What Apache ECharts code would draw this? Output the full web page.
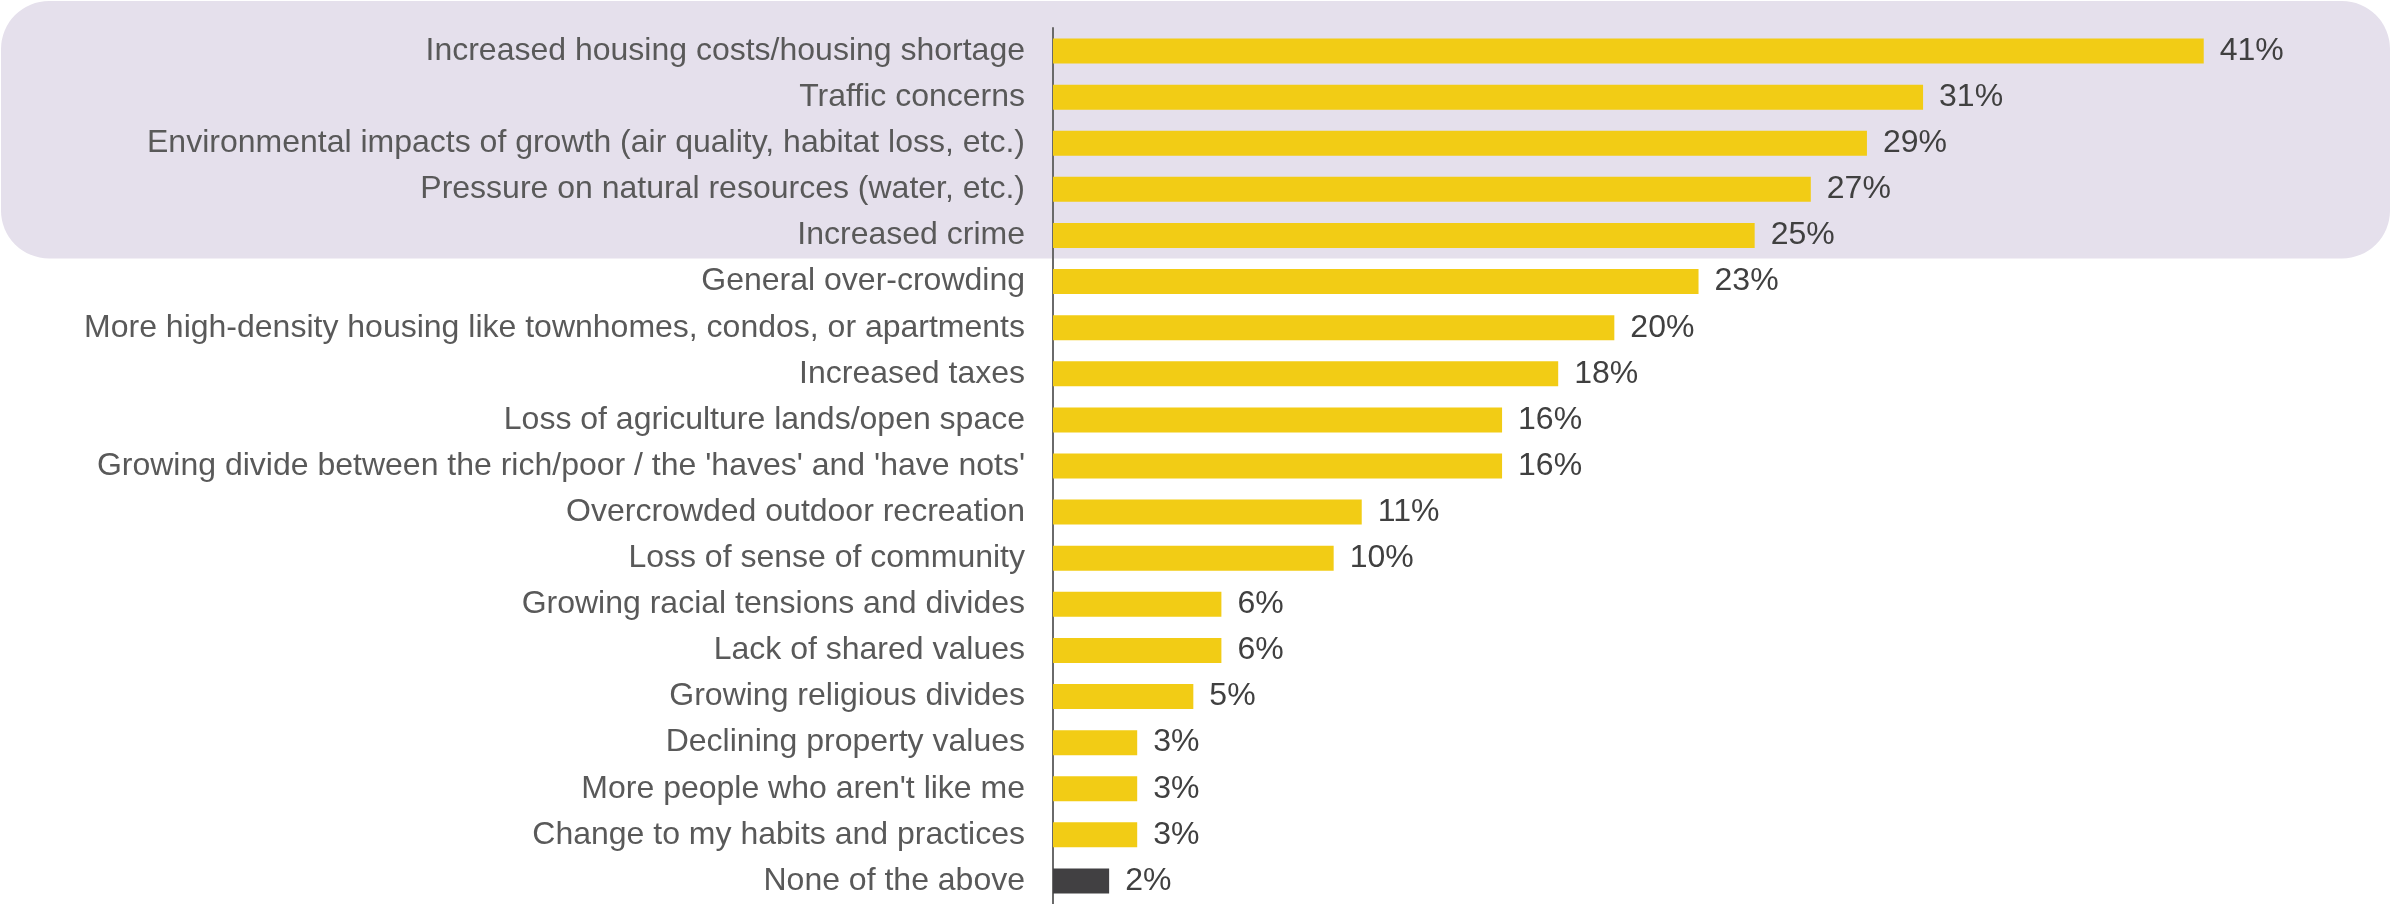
<!DOCTYPE html>
<html>
<head>
<meta charset="utf-8">
<script src="https://cdn.jsdelivr.net/npm/echarts@6/dist/echarts.min.js"></script>
<style>
  html, body { margin: 0; padding: 0; background: #fff; }
  #main { width: 2392px; height: 904px; }
</style>
</head>
<body>
<div id="main"></div>
<script>
var categories = [
  'Increased housing costs/housing shortage',
  'Traffic concerns',
  'Environmental impacts of growth (air quality, habitat loss, etc.)',
  'Pressure on natural resources (water, etc.)',
  'Increased crime',
  'General over-crowding',
  'More high-density housing like townhomes, condos, or apartments',
  'Increased taxes',
  'Loss of agriculture lands/open space',
  "Growing divide between the rich/poor / the 'haves' and 'have nots'",
  'Overcrowded outdoor recreation',
  'Loss of sense of community',
  'Growing racial tensions and divides',
  'Lack of shared values',
  'Growing religious divides',
  'Declining property values',
  "More people who aren't like me",
  'Change to my habits and practices',
  'None of the above'
];
var values = [41, 31, 29, 27, 25, 23, 20, 18, 16, 16, 11, 10, 6, 6, 5, 3, 3, 3, 2];
// first 5 rows sit on the shaded panel
var highlightCount = 5;

var chart = echarts.init(document.getElementById('main'));

var option = {
  animation: false,
  grid: {
    left: 1053,
    top: 28,
    bottom: 0,
    width: 1263,
    containLabel: false,
    outerBoundsMode: 'none'
  },
  xAxis: {
    type: 'value',
    min: 0,
    max: 45,
    show: false
  },
  yAxis: {
    type: 'category',
    inverse: true,
    data: categories,
    axisTick: { show: false },
    axisLine: {
      lineStyle: { color: '#6a6a6a', width: 2 }
    },
    axisLabel: {
      color: '#595959',
      fontFamily: 'Liberation Sans, Arial, sans-serif',
      fontSize: 32,
      margin: 28
    }
  },
  series: [
    {
      type: 'bar',
      barWidth: 25,
      data: values.map(function (v, i) {
        return {
          value: v,
          itemStyle: { color: i === values.length - 1 ? '#414042' : '#F2CC15' }
        };
      }),
      label: {
        show: true,
        position: 'right',
        distance: 16,
        formatter: '{c}%',
        color: '#404040',
        fontFamily: 'Liberation Sans, Arial, sans-serif',
        fontSize: 32
      }
    }
  ]
};

chart.setOption(option);

// shaded rounded panel behind the top rows
var y4 = chart.convertToPixel({ yAxisIndex: 0 }, categories[highlightCount - 1]);
var y5 = chart.convertToPixel({ yAxisIndex: 0 }, categories[highlightCount]);
var panelBottom = (y4 + y5) / 2;
chart.setOption({
  graphic: [
    {
      type: 'rect',
      z: -10,
      shape: { x: 1, y: 1, width: 2389, height: panelBottom - 1, r: 48 },
      style: { fill: '#E5E0EC' },
      silent: true
    }
  ]
});
</script>
</body>
</html>
